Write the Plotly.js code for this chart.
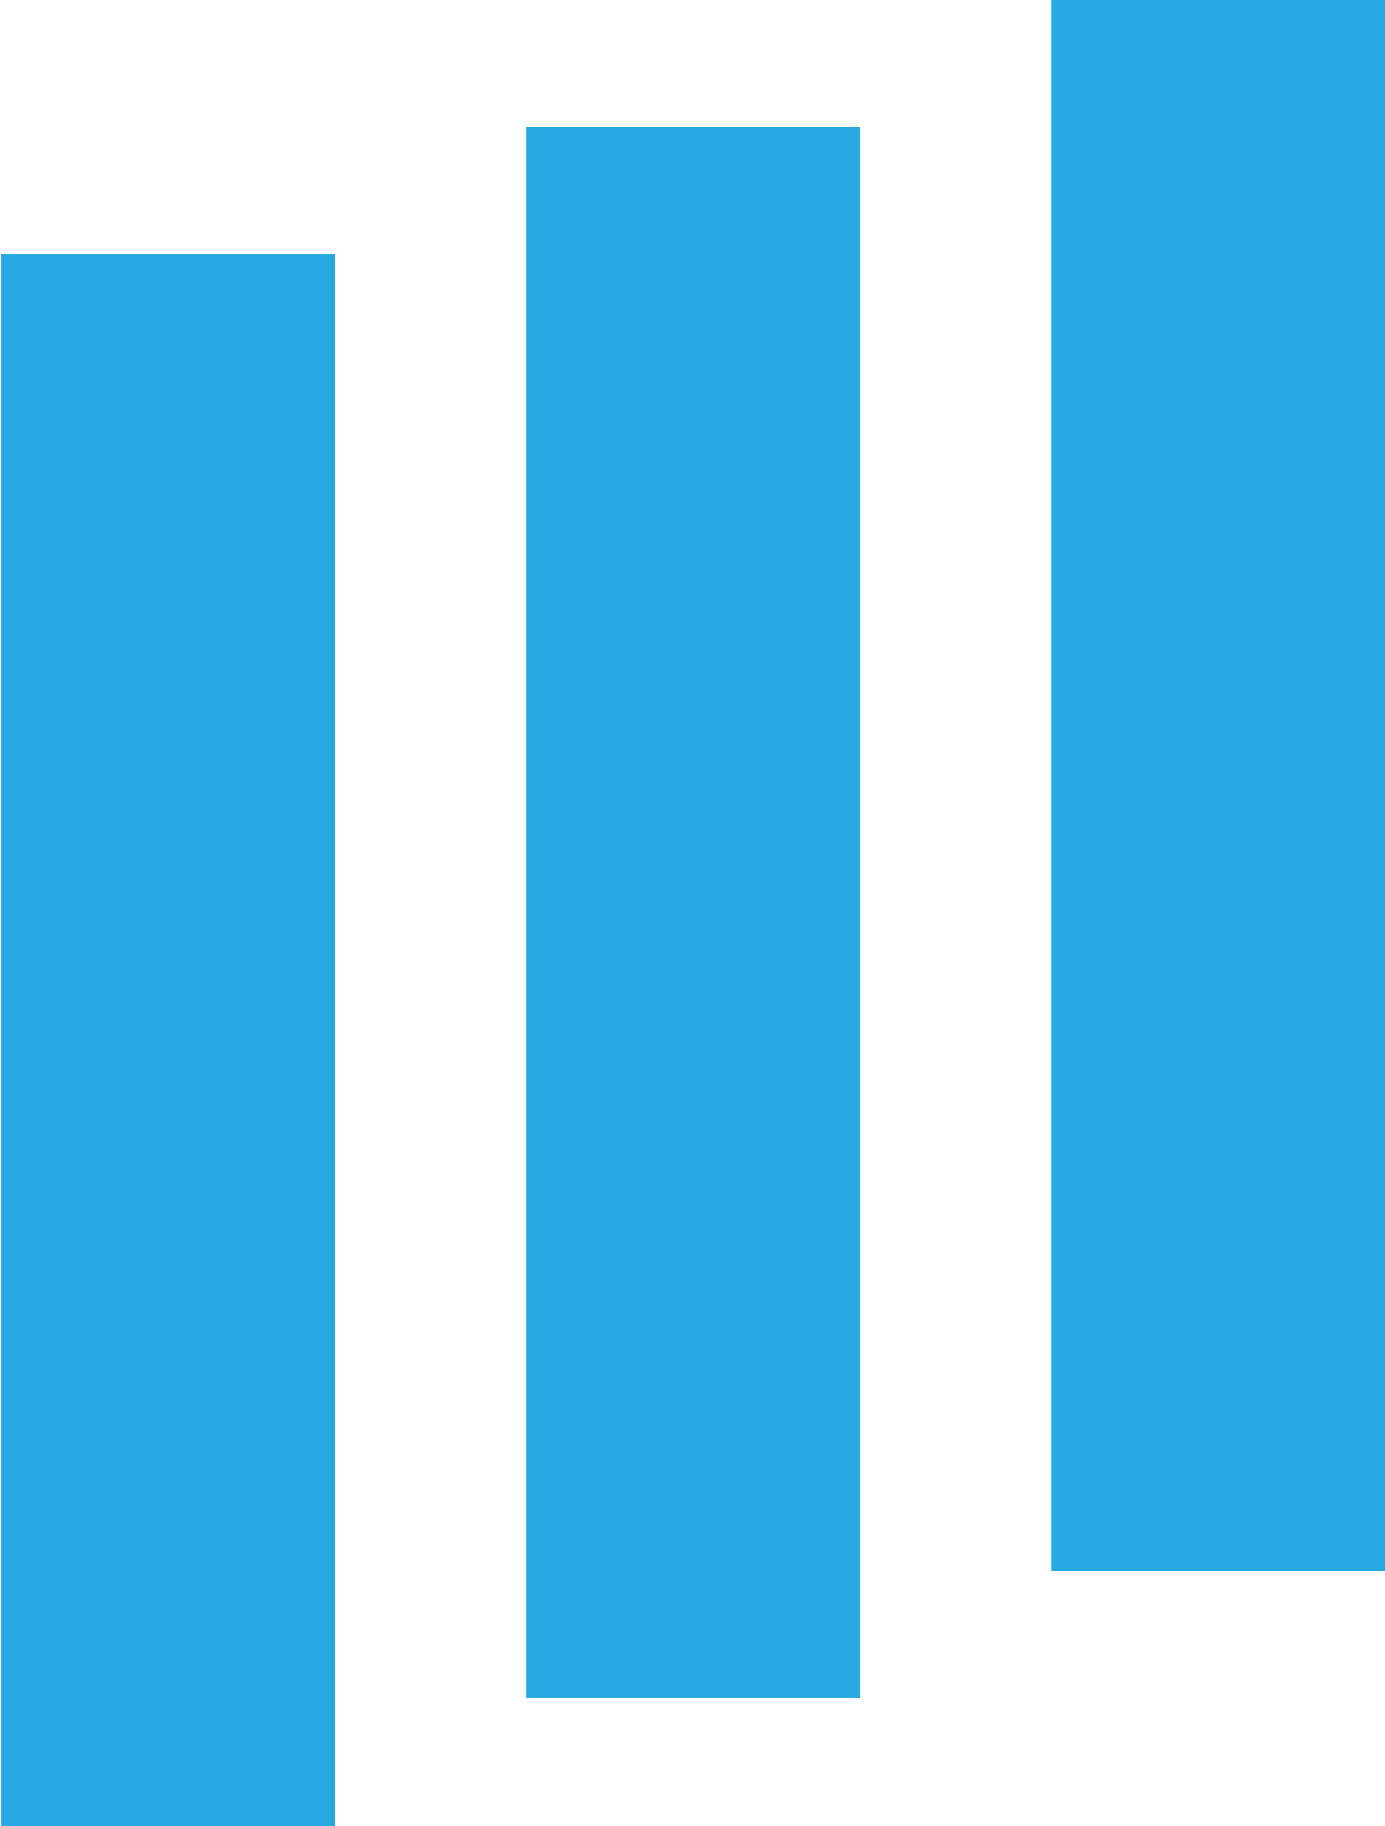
<!DOCTYPE html>
<html>
<head>
<meta charset="utf-8">
<script src="https://cdn.plot.ly/plotly-3.0.1.min.js"></script>
<style>
  html, body { margin: 0; padding: 0; background: #ffffff; }
  #chart { width: 1385px; height: 1826px; }
</style>
</head>
<body>
<div id="chart"></div>
<script>
// three floating bars, each one step higher than the last
const positions = [0, 1, 2];
const barBases = [0, 128, 255];
const barLengths = [1572, 1571, 1571];

const BAR_COLOR = "#27aae1";

const trace = {
  type: "bar",
  x: positions,
  y: barLengths,
  base: barBases,
  width: 0.636,
  marker: { color: BAR_COLOR, line: { width: 0 } },
  hoverinfo: "skip",
};

const layout = {
  width: 1385,
  height: 1826,
  margin: { l: 0, r: 0, t: 0, b: 0 },
  paper_bgcolor: "#ffffff",
  plot_bgcolor: "#ffffff",
  showlegend: false,
  xaxis: { range: [-0.32, 2.3175], visible: false, fixedrange: true },
  yaxis: { range: [0, 1826], visible: false, fixedrange: true },
};

Plotly.newPlot("chart", [trace], layout, { displayModeBar: false, staticPlot: true });
</script>
</body>
</html>
